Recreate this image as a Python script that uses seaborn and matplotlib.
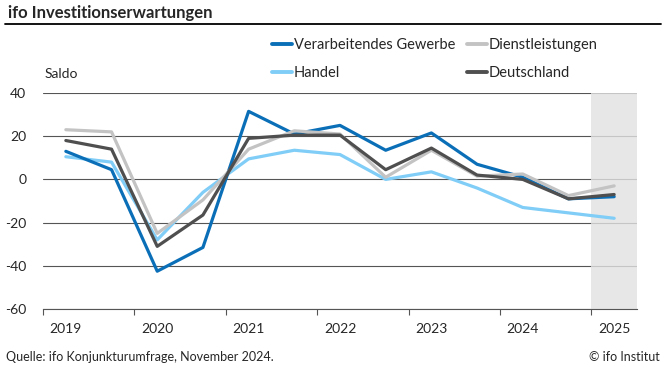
import pandas as pd
import seaborn as sns
import matplotlib.pyplot as plt
from matplotlib.lines import Line2D

# Daten: ifo Investitionserwartungen, Saldo (Frühjahr/Herbst)
jahre = [2019, 2019, 2020, 2020, 2021, 2021, 2022, 2022, 2023, 2023, 2024, 2024, 2025]
umfrage = ['F', 'H', 'F', 'H', 'F', 'H', 'F', 'H', 'F', 'H', 'F', 'H', 'F']
verarbeitendes = [13, 4.5, -42.5, -31.5, 31.5, 21, 25, 13.5, 21.5, 7, 1, -9, -8]
dienstleistungen = [23, 22, -25, -9.5, 14, 22.5, 21, 1, 13.5, 1.5, 2.5, -7.5, -3]
handel = [10.5, 8, -28, -6, 9.5, 13.5, 11.5, 0, 3.5, -4, -13, -15.5, -18]
deutschland = [18, 14, -31, -16.5, 19, 20.5, 20.5, 4.5, 14.5, 2, 0, -9, -7]
jahr_labels = ['2019', '2020', '2021', '2022', '2023', '2024', '2025']
y_ticks = [-60, -40, -20, 0, 20, 40]

serien = {
    'Handel': handel,
    'Verarbeitendes Gewerbe': verarbeitendes,
    'Dienstleistungen': dienstleistungen,
    'Deutschland': deutschland,
}
farben = {
    'Verarbeitendes Gewerbe': '#0b6fb8',
    'Dienstleistungen': '#c3c3c3',
    'Handel': '#80cdf7',
    'Deutschland': '#4f4f4f',
}

zeit = [j + (0.25 if u == 'F' else 0.75) for j, u in zip(jahre, umfrage)]
df = pd.concat([pd.DataFrame({'Zeit': zeit, 'Saldo': v, 'Reihe': k}) for k, v in serien.items()])

sns.set_style('white')
plt.rcParams['font.family'] = ['Lato', 'DejaVu Sans']

fig = plt.figure(figsize=(6.66, 3.70), dpi=100)
ax = fig.add_axes([43 / 666, 1 - 309 / 370, (637 - 43) / 666, (309 - 93) / 370])

# Prognosebereich 2025
ax.axvspan(2025, 2025.5, color='#e2e2e2', alpha=0.8, zorder=1.5, lw=0)

sns.lineplot(data=df, x='Zeit', y='Saldo', hue='Reihe', palette=farben,
             hue_order=list(serien.keys()), linewidth=2.3, ax=ax, legend=False, zorder=3)

ax.set_xlim(2019, 2025.5)
ax.set_ylim(-60, 40)
ax.set_yticks(y_ticks)
ax.set_yticklabels([str(t) for t in y_ticks], fontsize=10)
for t in y_ticks:
    ax.axhline(t, color='#555555', lw=0.8, zorder=1)

ax.set_xticks(range(2019, 2026))
ax.set_xticklabels([])
ax.set_xticks([int(l) + 0.25 for l in jahr_labels], minor=True)
ax.set_xticklabels(jahr_labels, minor=True, fontsize=10)
ax.tick_params(axis='x', which='major', length=4, width=0.8, color='#555555', direction='out', bottom=True)
ax.tick_params(axis='x', which='minor', length=0, pad=10)
ax.tick_params(axis='y', length=0, pad=12)
ax.set_xlabel('')
ax.set_ylabel('')
for s in ['top', 'right', 'left']:
    ax.spines[s].set_visible(False)
ax.spines['bottom'].set_color('#555555')
ax.spines['bottom'].set_linewidth(0.8)

# Titel und Linie
fig.text(8 / 666, 1 - 13 / 370, 'ifo Investitionserwartungen', fontsize=12, fontweight='bold', va='center')
fig.add_artist(Line2D([5 / 666, 661 / 666], [1 - 24 / 370, 1 - 24 / 370], color='black', lw=1.3))

fig.text(45 / 666, 1 - 74 / 370, 'Saldo', fontsize=10, va='center')

# Legende
reihenfolge = ['Verarbeitendes Gewerbe', 'Handel', 'Dienstleistungen', 'Deutschland']
handles = [Line2D([], [], color=farben[k], lw=2.8) for k in reihenfolge]
fig.legend(handles, reihenfolge, ncol=2, loc='upper left', bbox_to_anchor=(272 / 666, 1 - 38 / 370),
           frameon=False, fontsize=10.5, handlelength=1.35, handletextpad=0.15,
           columnspacing=0.8, labelspacing=0.95, borderpad=0, borderaxespad=0)

fig.text(6 / 666, 1 - 357 / 370, 'Quelle: ifo Konjunkturumfrage, November 2024.', fontsize=9, va='center')
fig.text(660 / 666, 1 - 357 / 370, '© ifo Institut', fontsize=9, va='center', ha='right')

fig.savefig('out.png', dpi=100)
